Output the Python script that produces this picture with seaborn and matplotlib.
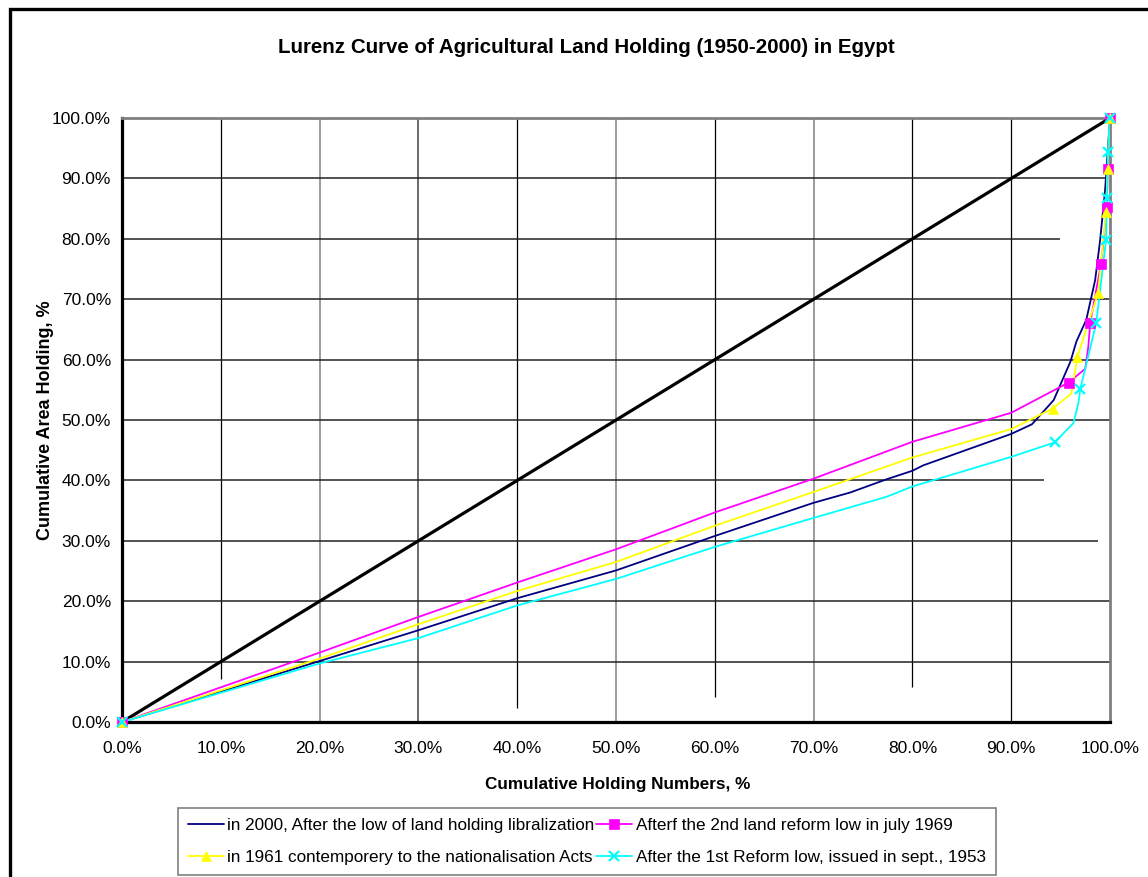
import numpy as np
import pandas as pd
import seaborn as sns
import matplotlib.pyplot as plt
from matplotlib.lines import Line2D
from matplotlib.patches import Rectangle

# Series (cumulative % of holdings vs cumulative % of area)
# line vertices and the marked data points kept apart
y2000_x = [0, 20, 30, 40, 50, 60, 70, 73.7, 77.4, 80, 81.1, 90, 92.1, 94.3, 96.0, 96.6, 97.6, 98.5, 99.0, 99.5, 100]
y2000_y = [0, 10.1, 15.2, 20.5, 25.1, 30.8, 36.3, 38.0, 40.2, 41.6, 42.5, 47.7, 49.3, 53.3, 59.7, 63.0, 66.6, 73.2, 79.8, 88.0, 100]

y1969_x = [0, 20, 30, 40, 50, 60, 70, 80, 90, 95.8, 97.5, 97.8, 98.0, 99.1, 99.7, 99.75, 100]
y1969_y = [0, 11.5, 17.4, 23.1, 28.6, 34.7, 40.3, 46.4, 51.2, 56.2, 58.5, 62.1, 66.1, 75.9, 85.3, 91.6, 100]
y1969_mx = [0, 95.8, 98.0, 99.1, 99.7, 99.75, 100]
y1969_my = [0, 56.2, 66.1, 75.9, 85.3, 91.6, 100]

y1961_x = [0, 20, 30, 40, 50, 60, 70, 80, 90, 94.2, 96.1, 96.7, 98.8, 99.6, 99.75, 100]
y1961_y = [0, 10.5, 16.2, 21.7, 26.5, 32.5, 38.1, 43.8, 48.5, 51.9, 54.4, 60.5, 71.0, 84.5, 91.6, 100]
y1961_mx = [0, 94.2, 96.7, 98.8, 99.6, 99.75, 100]
y1961_my = [0, 51.9, 60.5, 71.0, 84.5, 91.6, 100]

y1953_x = [0, 20, 30, 40, 50, 60, 70, 77.4, 80, 90, 94.4, 96.3, 96.8, 97.0, 98.6, 99.6, 99.7, 99.8, 100]
y1953_y = [0, 9.7, 13.9, 19.3, 23.7, 29.0, 33.8, 37.3, 39.0, 43.9, 46.3, 49.5, 52.8, 55.2, 66.0, 79.8, 86.7, 94.3, 100]
y1953_mx = [0, 94.4, 97.0, 98.6, 99.6, 99.7, 99.8, 100]
y1953_my = [0, 46.3, 55.2, 66.0, 79.8, 86.7, 94.3, 100]

equality_x = [0, 100]
equality_y = [0, 100]

labels = ['in 2000, After the low of land holding libralization',
          'Afterf the 2nd land reform low in july 1969',
          'in 1961 contemporery to the nationalisation Acts',
          'After the 1st Reform low, issued in sept., 1953']

sns.set_style('white')
plt.rcParams['font.family'] = ['Liberation Sans', 'DejaVu Sans']
plt.rcParams['text.color'] = 'black'
plt.rcParams['xtick.color'] = 'black'
plt.rcParams['ytick.color'] = 'black'

fig = plt.figure(figsize=(11.48, 8.77), dpi=100)
ax = fig.add_axes([0.1063, 0.1767, 0.8606, 0.6887])
ax.set_xlim(0, 100)
ax.set_ylim(0, 100)

# odd, partly drawn grid of the original
vgrid = [10, 20, 30, 40, 50, 60, 70, 80, 90]
vgrid_end = [7.1, 0, 0, 2.3, 0, 4.1, 0, 5.8, 0]
vgrid_col = ['black', '#808080', '#404040', 'black', '#808080', 'black', '#808080', 'black', 'black']
for v, e, c in zip(vgrid, vgrid_end, vgrid_col):
    ax.vlines(v, e, 100, color=c, lw=1.1 if c != 'black' else 0.9, zorder=1)
hgrid = [10, 20, 30, 40, 50, 60, 70, 80, 90]
hgrid_end = [100, 100, 98.8, 93.3, 100, 100, 100, 94.9, 99.6]
for h, e in zip(hgrid, hgrid_end):
    ax.hlines(h, 0, e, color='#222222', lw=1.1, zorder=1)

sns.lineplot(x=equality_x, y=equality_y, color='black', lw=2.3, ax=ax, zorder=3)

series = [
    (y2000_x, y2000_y, None, None, '#000080', None),
    (y1969_x, y1969_y, y1969_mx, y1969_my, '#FF00FF', 's'),
    (y1961_x, y1961_y, y1961_mx, y1961_my, '#FFFF00', '^'),
    (y1953_x, y1953_y, y1953_mx, y1953_my, '#00FFFF', 'x'),
]
handles = []
for (lx, ly, mx, my, col, mk), lab in zip(series, labels):
    df = pd.DataFrame({'x': lx, 'y': ly})
    sns.lineplot(data=df, x='x', y='y', sort=False, estimator=None,
                 color=col, lw=1.3, ax=ax, zorder=4)
    if mk is not None:
        ax.plot(mx, my, ls='none', marker=mk, color=col, ms=7.5,
                mew=1.6 if mk == 'x' else 0.5, clip_on=False, zorder=5)
    handles.append(Line2D([], [], color=col, lw=1.3, marker=mk, ms=7.5,
                          mew=1.6 if mk == 'x' else 0.5))

ax.set_xticks(np.arange(0, 101, 10))
ax.set_yticks(np.arange(0, 101, 10))
ax.set_xticklabels([f'{v:.1f}%' for v in np.arange(0, 101, 10)], fontsize=12.5)
ax.set_yticklabels([f'{v:.1f}%' for v in np.arange(0, 101, 10)], fontsize=12.5)
ax.tick_params(axis='both', direction='out', length=5, width=1.5, color='black')
ax.tick_params(axis='x', pad=9)
ax.tick_params(axis='y', pad=3)
ax.set_xlabel('')
ax.set_ylabel('')

for s in ['left', 'bottom']:
    ax.spines[s].set_color('black')
    ax.spines[s].set_linewidth(2.3)
for s in ['top', 'right']:
    ax.spines[s].set_color('#808080')
    ax.spines[s].set_linewidth(2)

fig.text(0.511, 0.946, 'Lurenz Curve of Agricultural Land Holding (1950-2000) in Egypt',
         ha='center', va='center', fontsize=14.8, fontweight='bold')
fig.text(0.538, 0.106, 'Cumulative Holding Numbers, %', ha='center', va='center',
         fontsize=12.3, fontweight='bold')
fig.text(0.04, 0.521, 'Cumulative Area Holding, %', ha='center', va='center',
         rotation=90, fontsize=13, fontweight='bold')

leg = fig.legend([handles[0], handles[2], handles[1], handles[3]],
                 [labels[0], labels[2], labels[1], labels[3]],
                 ncol=2, loc='upper left', bbox_to_anchor=(0.155, 0.079),
                 fontsize=12.3, frameon=True, fancybox=False, framealpha=1,
                 handlelength=2.1, handletextpad=0.2, columnspacing=0.1,
                 labelspacing=1.0, borderpad=0.6, borderaxespad=0)
leg.get_frame().set_edgecolor('#808080')
leg.get_frame().set_linewidth(1.2)

fig.patches.append(Rectangle((0.0087, -0.5), 2, 0.5 + 0.9897, fill=False,
                             edgecolor='black', lw=2.4, transform=fig.transFigure))

fig.savefig('out.png', dpi=100)
